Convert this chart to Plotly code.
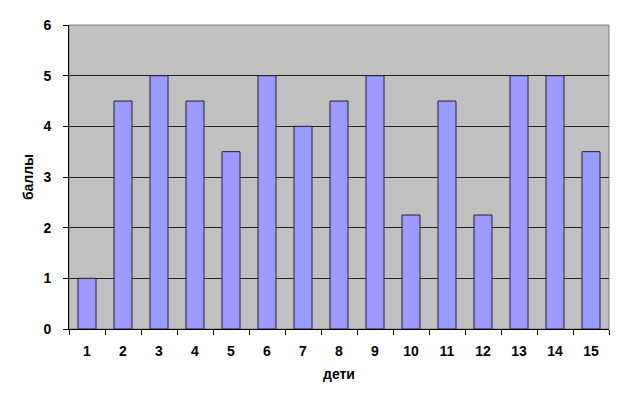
import plotly.graph_objects as go

children = [str(i) for i in range(1, 16)]
scores = [1, 4.5, 5, 4.5, 3.5, 5, 4, 4.5, 5, 2.25, 4.5, 2.25, 5, 5, 3.5]
y_ticks = [0, 1, 2, 3, 4, 5, 6]

FAM = "Arial, Liberation Sans, sans-serif"
tickfont = dict(family=FAM, size=14, color="black", weight="bold")

fig = go.Figure(go.Bar(
    x=children, y=scores,
    marker=dict(color="#9999FF", line=dict(color="#222222", width=1)),
))

fig.update_layout(
    width=624, height=402,
    margin=dict(l=61, r=23, t=17, b=81, autoexpand=False),
    paper_bgcolor="white",
    plot_bgcolor="#C0C0C0",
    bargap=0.5,
    showlegend=False,
    font=dict(family=FAM, size=14, color="black"),
)
fig.update_xaxes(
    type="category",
    tickson="boundaries",
    ticks="outside", ticklen=5, tickcolor="black",
    showline=True, linecolor="black", linewidth=1,
    showgrid=False,
    tickfont=tickfont,
    ticklabelstandoff=9,
    title=dict(text="дети", standoff=11, font=dict(family=FAM, size=14, weight="bold")),
)
fig.update_yaxes(
    range=[0, 6], tickvals=y_ticks,
    ticks="outside", ticklen=5, tickcolor="black",
    showline=True, linecolor="black", linewidth=1,
    showgrid=True, gridcolor="#202020", gridwidth=1,
    zeroline=False,
    tickfont=tickfont,
    ticklabelstandoff=9,
    title=dict(text="баллы", standoff=6, font=dict(family=FAM, size=14, weight="bold")),
)
fig.add_shape(type="rect", xref="paper", yref="paper", x0=0, x1=1, y0=0, y1=1,
              line=dict(color="#808080", width=1), fillcolor="rgba(0,0,0,0)", layer="below")

fig.write_html("out.html")
